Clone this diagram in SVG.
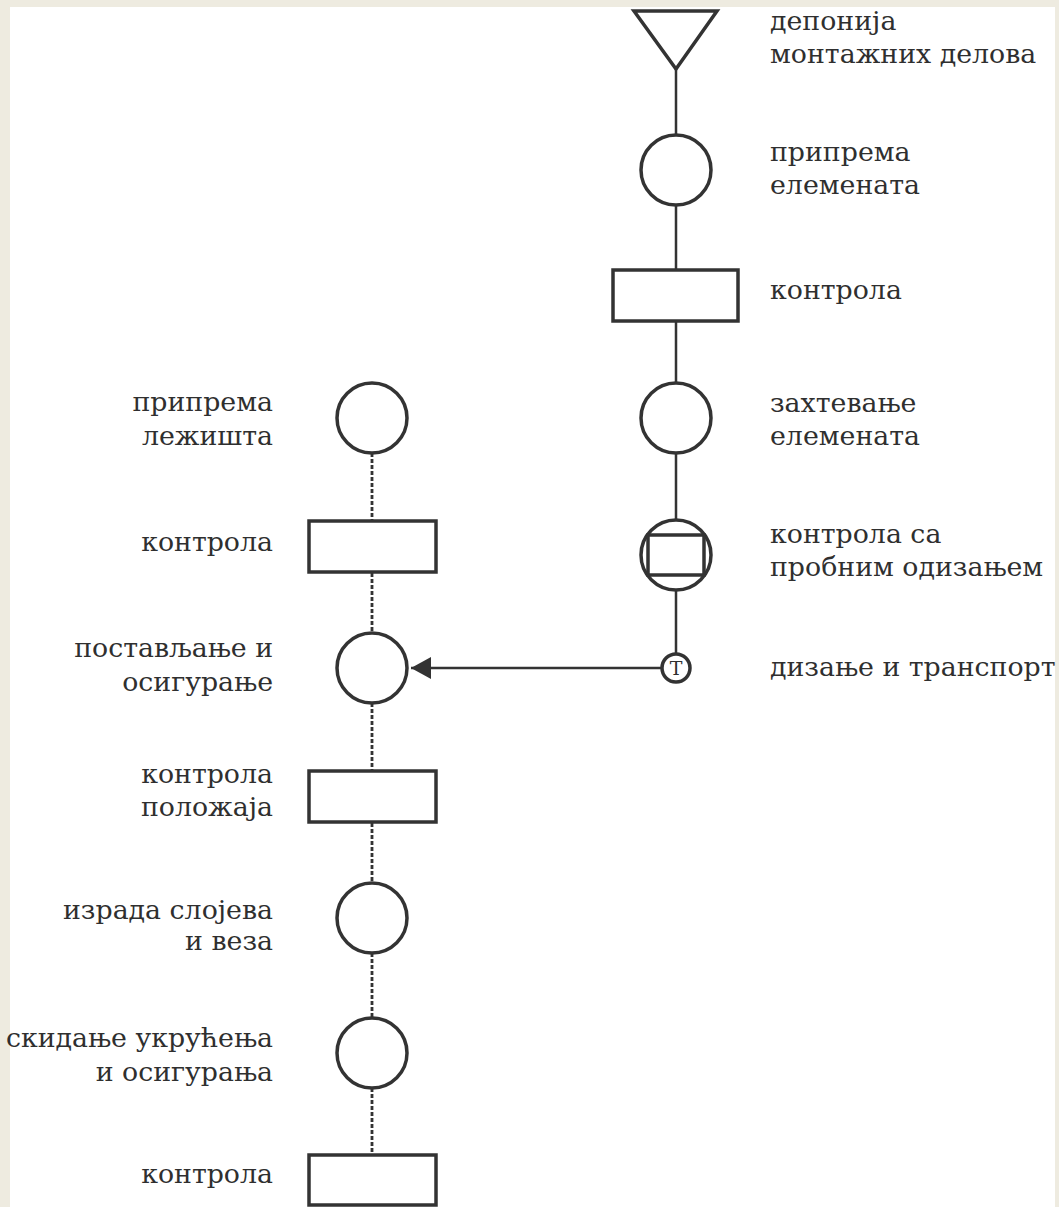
<svg xmlns="http://www.w3.org/2000/svg" width="1059" height="1207" viewBox="0 0 1059 1207">
<style>
.s{fill:#fff;stroke:#333;stroke-width:3.5}
.t{font-family:"DejaVu Serif","Liberation Serif",serif;font-size:26.8px;fill:#2f2f2f}
.r{text-anchor:end}
.c{stroke:#333;stroke-width:2.5;fill:none}
.d{stroke:#333;stroke-width:2.8;fill:none;stroke-dasharray:4 2}
</style>
<defs>
<marker id="ah" markerWidth="20" markerHeight="22" refX="20" refY="11" orient="auto" markerUnits="userSpaceOnUse">
<path d="M0,0 L20,11 L0,22 Z" fill="#333"/>
</marker>
</defs>
<rect width="1059" height="1207" fill="#EEEBE0"/>
<rect x="10" y="7" width="1045" height="1200" fill="#fff"/>
<g id="connectors">
<line class="c" x1="676" y1="68" x2="676" y2="654"/>
<line class="c" x1="661" y1="668" x2="411" y2="668" marker-end="url(#ah)"/>
<line class="d" x1="372" y1="453" x2="372" y2="521"/>
<line class="d" x1="372" y1="573" x2="372" y2="633"/>
<line class="d" x1="372" y1="703" x2="372" y2="771"/>
<line class="d" x1="372" y1="823" x2="372" y2="883"/>
<line class="d" x1="372" y1="953" x2="372" y2="1018"/>
<line class="d" x1="372" y1="1088" x2="372" y2="1155"/>
</g>
<g id="n-depo"><path class="s" d="M634,11 L717,11 L676,69 Z"/>
<text class="t" x="770" y="30">депонија</text><text class="t" x="770" y="63">монтажних делова</text></g>
<g id="n-prip-el"><circle class="s" cx="676" cy="170" r="35"/>
<text class="t" x="770" y="161">припрема</text><text class="t" x="770" y="194">елемената</text></g>
<g id="n-kontr1"><rect class="s" x="613" y="270" width="125" height="51"/>
<text class="t" x="770" y="299">контрола</text></g>
<g id="n-zaht"><circle class="s" cx="676" cy="418" r="35"/>
<text class="t" x="770" y="412">захтевање</text><text class="t" x="770" y="445">елемената</text></g>
<g id="n-kontr-prob"><circle class="s" cx="676" cy="555" r="35"/>
<rect class="s" x="648" y="535" width="56" height="40"/>
<text class="t" x="770" y="543">контрола са</text><text class="t" x="770" y="576">пробним одизањем</text></g>
<g id="n-transport"><circle class="s" cx="676" cy="668" r="14"/>
<text x="676" y="675" text-anchor="middle" style="font-family:'DejaVu Serif',serif;font-size:19px;fill:#2f2f2f">T</text>
<text class="t" x="770" y="676">дизање и транспорт</text></g>
<g id="n-prip-lez"><circle class="s" cx="372" cy="418" r="35"/>
<text class="t r" x="273" y="411">припрема</text><text class="t r" x="273" y="445">лежишта</text></g>
<g id="n-kontr2"><rect class="s" x="309" y="521" width="127" height="51"/>
<text class="t r" x="273" y="551">контрола</text></g>
<g id="n-postav"><circle class="s" cx="372" cy="668" r="35"/>
<text class="t r" x="273" y="657">постављање и</text><text class="t r" x="273" y="691">осигурање</text></g>
<g id="n-kontr-pol"><rect class="s" x="309" y="771" width="127" height="51"/>
<text class="t r" x="273" y="783">контрола</text><text class="t r" x="273" y="816">положаја</text></g>
<g id="n-izrada"><circle class="s" cx="372" cy="918" r="35"/>
<text class="t r" x="273" y="919">израда слојева</text><text class="t r" x="273" y="950">и веза</text></g>
<g id="n-skid"><circle class="s" cx="372" cy="1053" r="35"/>
<text class="t r" x="273" y="1047">скидање укрућења</text><text class="t r" x="273" y="1081">и осигурања</text></g>
<g id="n-kontr3"><rect class="s" x="309" y="1155" width="127" height="50"/>
<text class="t r" x="273" y="1183">контрола</text></g>
</svg>
